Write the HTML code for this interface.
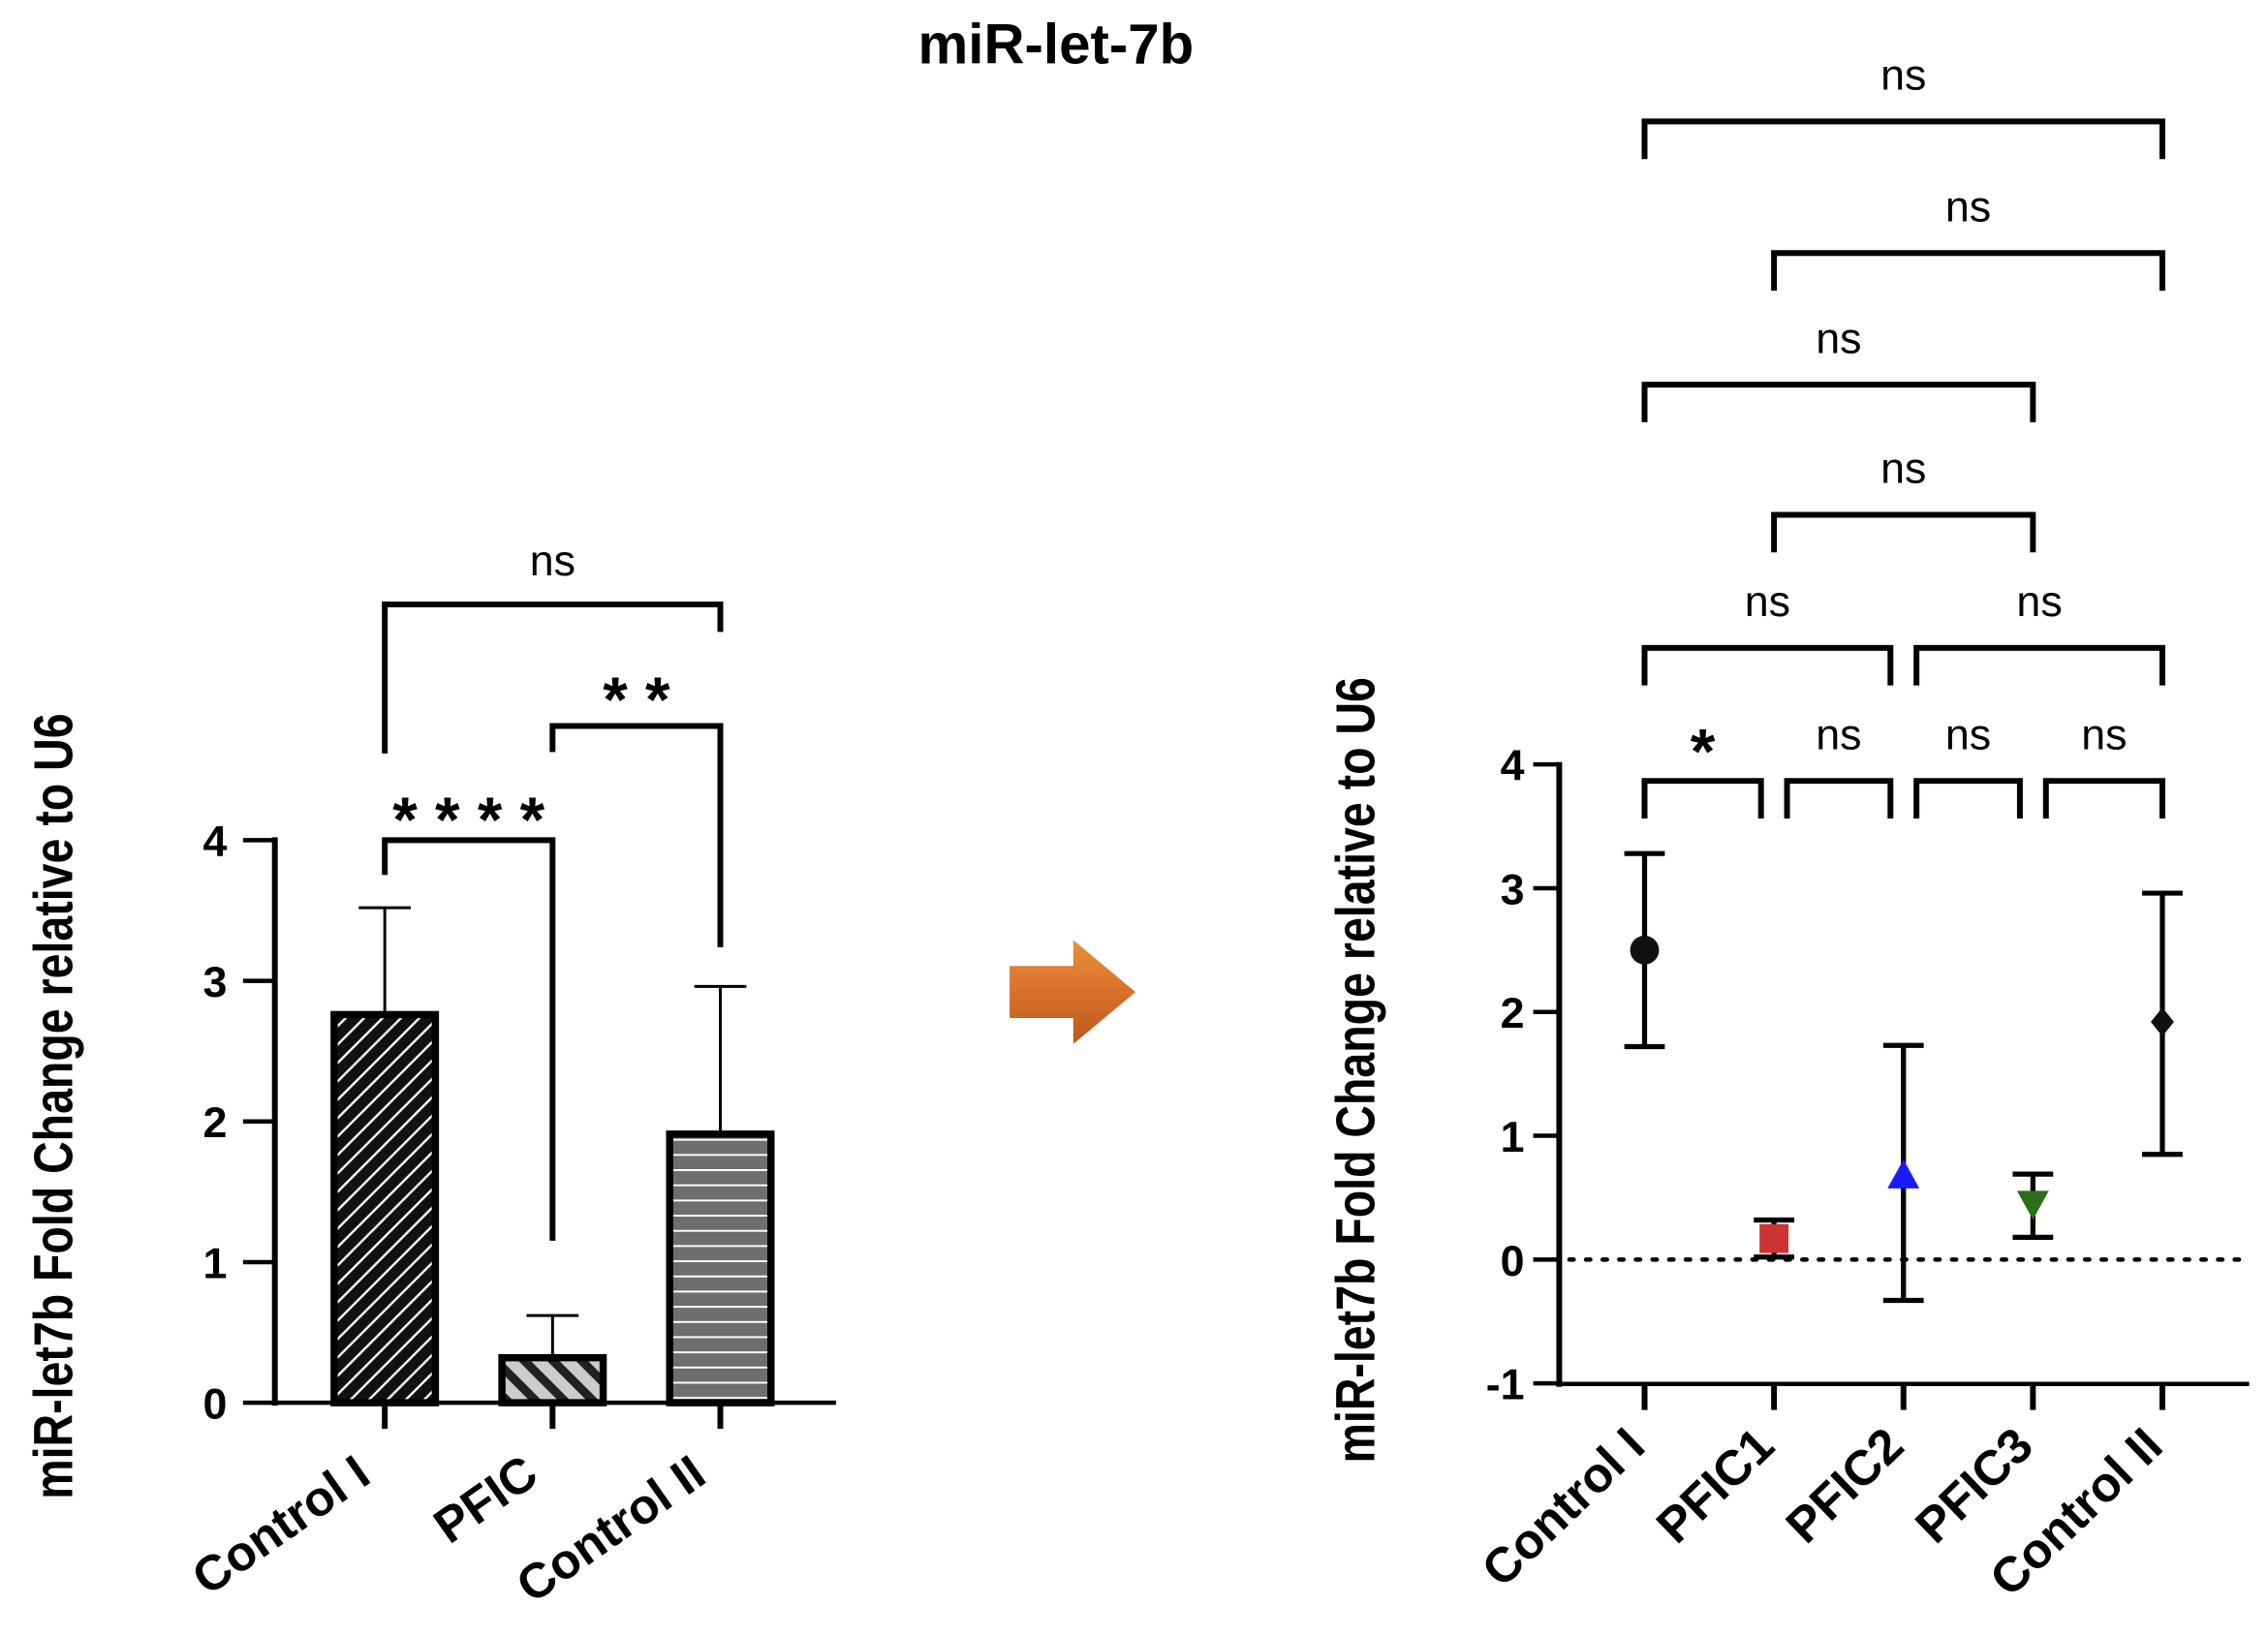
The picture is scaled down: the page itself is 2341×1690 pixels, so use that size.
<!DOCTYPE html>
<html><head><meta charset="utf-8"><style>
html,body{margin:0;padding:0;background:#fff;width:2341px;height:1690px;overflow:hidden}
svg{display:block}
text{font-family:"Liberation Sans",sans-serif}
</style></head><body>
<svg id="fig" width="2341" height="1690" viewBox="0 0 1568 1132" xmlns="http://www.w3.org/2000/svg">
<defs>
<pattern id="pDiag" width="9" height="9" patternUnits="userSpaceOnUse" patternTransform="rotate(-45)">
<rect width="9" height="9" fill="#111"/><rect y="0" width="9" height="1.6" fill="#fff"/></pattern>
<pattern id="pPfic" width="14" height="14" patternUnits="userSpaceOnUse" patternTransform="rotate(45)">
<rect width="14" height="14" fill="#ccc"/><rect width="14" height="6" fill="#222"/></pattern>
<pattern id="pHor" width="10" height="10.5" patternUnits="userSpaceOnUse">
<rect width="10" height="10.5" fill="#6e6e6e"/><rect y="0" width="10" height="1.3" fill="#fff"/></pattern>
<linearGradient id="gArrow" x1="0" y1="0" x2="0" y2="1"><stop offset="0" stop-color="#e8913f"/><stop offset="0.5" stop-color="#d9702a"/><stop offset="1" stop-color="#b85a1c"/></linearGradient>
</defs>
<text x="730" y="44" text-anchor="middle" font-size="39" font-weight="bold">miR-let-7b</text>
<g id="left"></g>
<polygon points="698,668 742,668 742,650 785,686 742,722 742,704 698,704" fill="url(#gArrow)"/>
<g id="right"></g>
</svg>
<script>
const NS="http://www.w3.org/2000/svg";
const barCats=["Control I","PFIC","Control II"];
const barVals=[2.76,0.32,1.91];
const barErr=[3.52,0.62,2.96];
const barTicks=[0,1,2,3,4];
const dotCats=["Control I","PFIC1","PFIC2","PFIC3","Control II"];
const dotVals=[2.5,0.17,0.68,0.45,1.92];
const dotLo=[1.72,0.02,-0.33,0.18,0.85];
const dotHi=[3.28,0.32,1.73,0.69,2.96];
const dotTicks=[-1,0,1,2,3,4];
const barSig=[["ns",0,2,0],["* *",1,2,1],["* * * *",0,1,2]];
const dotSig=[["ns",0,4],["ns",1,4],["ns",0,3],["ns",1,3],["ns",0,2],["ns",2,4],["*",0,1],["ns",1,2],["ns",2,3],["ns",3,4]];
function mk(p,tag,a,txt){const e=document.createElementNS(NS,tag);for(const k in a)e.setAttribute(k,a[k]);if(txt!=null)e.textContent=txt;p.appendChild(e);return e;}
// left
const L=document.getElementById('left');
const ly=v=>970-v*97.25, lx=i=>266+i*116;
mk(L,'line',{x1:190,y1:579,x2:190,y2:972,stroke:'#000','stroke-width':4});
mk(L,'line',{x1:188,y1:970,x2:578,y2:970,stroke:'#000','stroke-width':3});
barTicks.forEach(t=>{mk(L,'line',{x1:168,y1:ly(t),x2:190,y2:ly(t),stroke:'#000','stroke-width':3});
const tt=mk(L,'text',{x:157,y:ly(t)+11,'text-anchor':'end','font-size':30,'font-weight':'bold'},t);
});
const fills=['url(#pDiag)','url(#pPfic)','url(#pHor)'];
barCats.forEach((c,i)=>{const x=lx(i);
mk(L,'line',{x1:x,y1:ly(barVals[i]),x2:x,y2:ly(barErr[i]),stroke:'#000','stroke-width':2});
mk(L,'line',{x1:x-18,y1:ly(barErr[i]),x2:x+18,y2:ly(barErr[i]),stroke:'#000','stroke-width':2});
const r=mk(L,'rect',{x:x-35,y:ly(barVals[i]),width:70,height:ly(0)-ly(barVals[i]),fill:fills[i],stroke:'#000','stroke-width':5});

mk(L,'line',{x1:x,y1:970,x2:x,y2:988,stroke:'#000','stroke-width':4});
const t=mk(L,'text',{transform:`translate(${x-8},1024) rotate(-35)`,'text-anchor':'end','font-size':34,'font-weight':'bold'},c);
});
const ylab=mk(L,'text',{transform:'translate(50,765) rotate(-90) scale(0.82,1)','text-anchor':'middle','font-size':38,'font-weight':'bold'},'miR-let7b Fold Change relative to U6');

const bl=[[418,521,437,388],[502,520,655,475],[581,605,858,558]];
barSig.forEach((s,k)=>{const [top,l1,r1,ty]=bl[k];const a=lx(s[1]),b=lx(s[2]);
mk(L,'path',{d:`M${a},${l1}V${top}H${b}V${r1}`,fill:'none',stroke:'#000','stroke-width':4});
const t=mk(L,'text',{x:(a+b)/2,y:ty+(s[0]=='ns'?10:24),'text-anchor':'middle','font-size':s[0]=='ns'?30:44,'font-weight':s[0]=='ns'?'normal':'bold'},s[0]);
});
// right
const R=document.getElementById('right');
const ry=v=>871-v*85.6, rx=i=>1137+i*89.5;
mk(R,'line',{x1:1078,y1:527,x2:1078,y2:959,stroke:'#000','stroke-width':4});
mk(R,'line',{x1:1076,y1:957,x2:1555,y2:957,stroke:'#000','stroke-width':3});
mk(R,'line',{x1:1085,y1:ry(0),x2:1555,y2:ry(0),stroke:'#000','stroke-width':3,'stroke-dasharray':'3,8.5','stroke-linecap':'round'});
dotTicks.forEach(t=>{mk(R,'line',{x1:1060,y1:ry(t),x2:1078,y2:ry(t),stroke:'#000','stroke-width':3});
const tt=mk(R,'text',{x:1054,y:ry(t)+11,'text-anchor':'end','font-size':30,'font-weight':'bold'},t);
});
const cols=['#111','#cc3333','#1a1aff','#2d6e1a','#111'];
dotCats.forEach((c,i)=>{const x=rx(i);
mk(R,'line',{x1:x,y1:ry(dotLo[i]),x2:x,y2:ry(dotHi[i]),stroke:'#000','stroke-width':3.5});
[dotLo[i],dotHi[i]].forEach(v=>mk(R,'line',{x1:x-14,y1:ry(v),x2:x+14,y2:ry(v),stroke:'#000','stroke-width':3.5}));
const y=ry(dotVals[i]);let m;
if(i==0)m=mk(R,'circle',{cx:x,cy:y,r:10,fill:cols[i]});
else if(i==1)m=mk(R,'rect',{x:x-10,y:y-10,width:20,height:20,fill:cols[i]});
else if(i==2)m=mk(R,'polygon',{points:`${x},${y-11} ${x+11},${y+9} ${x-11},${y+9}`,fill:cols[i]});
else if(i==3)m=mk(R,'polygon',{points:`${x},${y+11} ${x+11},${y-9} ${x-11},${y-9}`,fill:cols[i]});
else m=mk(R,'polygon',{points:`${x},${y-10} ${x+8},${y} ${x},${y+10} ${x-8},${y}`,fill:cols[i]});

mk(R,'line',{x1:x,y1:957,x2:x,y2:975,stroke:'#000','stroke-width':4});
const t=mk(R,'text',{transform:`translate(${x+2},1002) rotate(-44)`,'text-anchor':'end','font-size':34,'font-weight':'bold'},c);
});
const ylab2=mk(R,'text',{transform:'translate(950,740) rotate(-90) scale(0.82,1)','text-anchor':'middle','font-size':38,'font-weight':'bold'},'miR-let7b Fold Change relative to U6');

const rows=[84,175,266,356,448,448,540,540,540,540];
dotSig.forEach((s,k)=>{const top=rows[k];let a=rx(s[1]),b=rx(s[2]);
if(k>=4){if(s[1]>0)a+=9; if(s[2]<4)b-=9;}
mk(R,'path',{d:`M${a},${top+26}V${top}H${b}V${top+26}`,fill:'none',stroke:'#000','stroke-width':4});
const t=mk(R,'text',{x:(a+b)/2,y:s[0]=='ns'?top-22:top-5,'text-anchor':'middle','font-size':s[0]=='ns'?30:44,'font-weight':s[0]=='ns'?'normal':'bold'},s[0]);
});
</script>
</body></html>
